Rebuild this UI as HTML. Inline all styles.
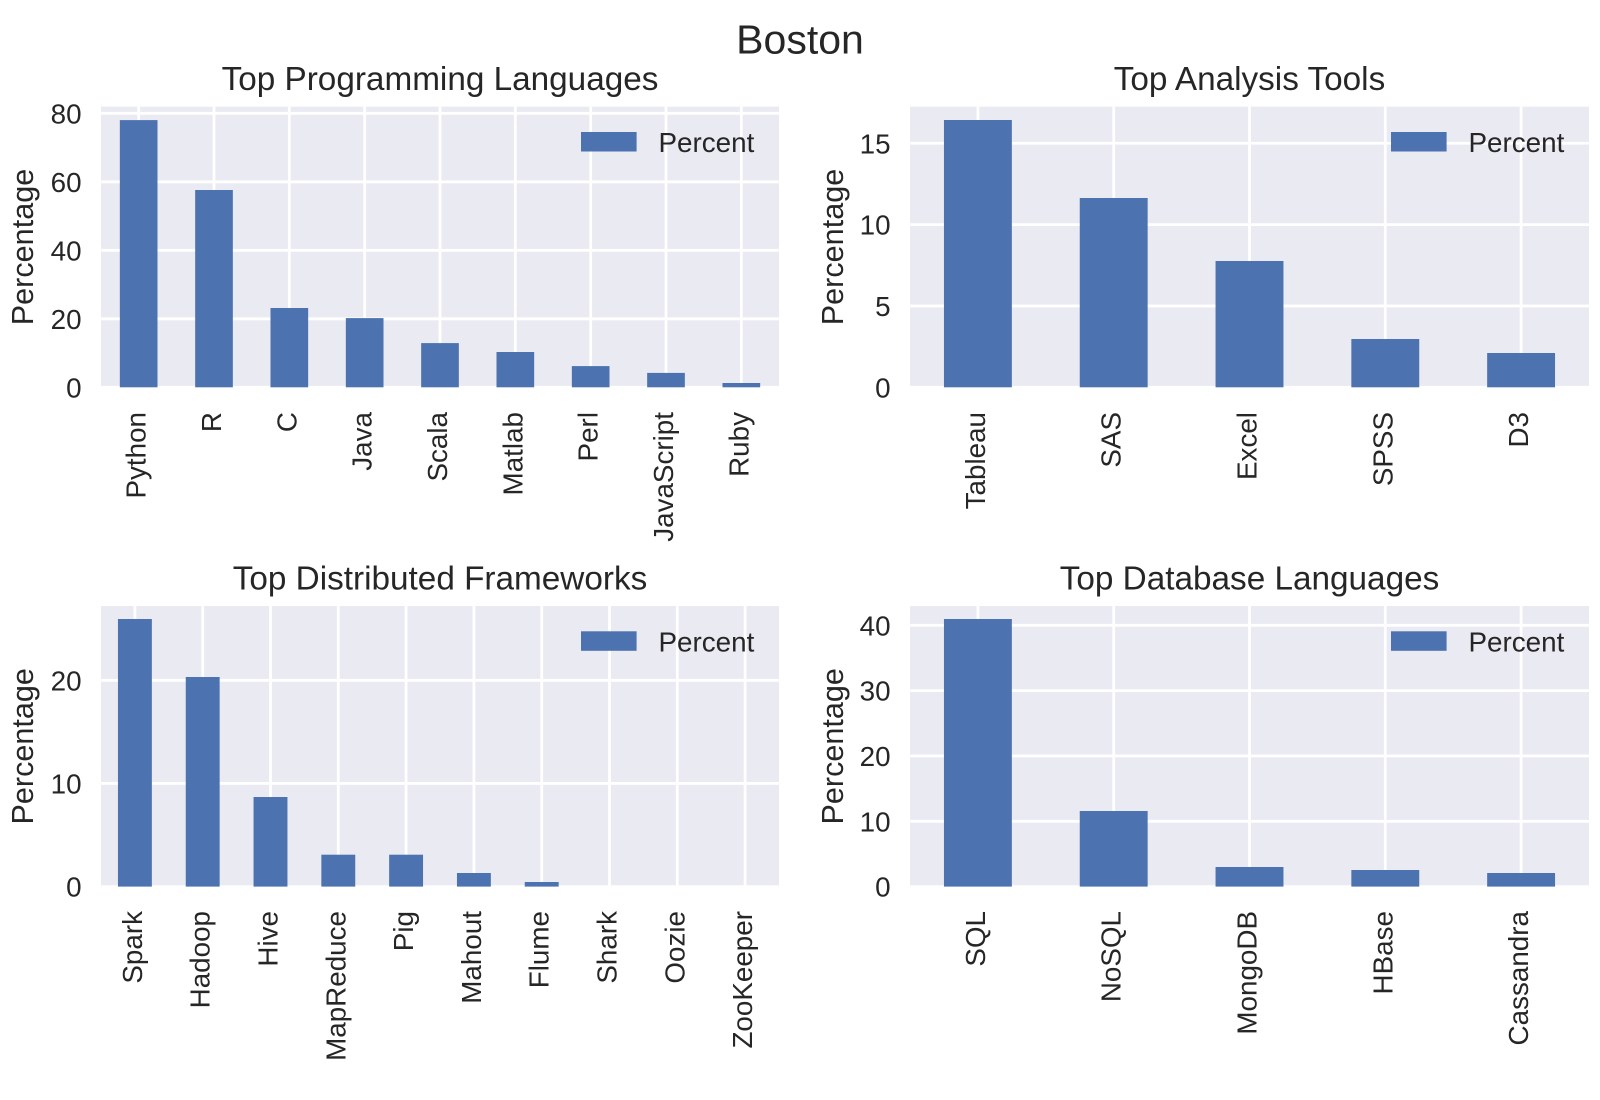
<!DOCTYPE html>
<html>
<head>
<meta charset="utf-8">
<style>
html,body{margin:0;padding:0;background:#fff;}
svg{display:block;}
text{font-family:"Liberation Sans",Arial,sans-serif;fill:#262626;}
.tk{font-size:27.8px;}
.lg{font-size:27.8px;}
.yl{font-size:30.6px;}
.tt{font-size:33.3px;}
.g{stroke:#fff;stroke-width:2.78;}
.b{fill:#4C72B0;}
</style>
</head>
<body>
<svg width="1600" height="1100" viewBox="0 0 1600 1100" xmlns="http://www.w3.org/2000/svg">
<rect x="0" y="0" width="1600" height="1100" fill="#fff"/>
<text x="800" y="53.3" text-anchor="middle" style="font-size:41px">Boston</text>

<!-- ============ TOP LEFT ============ -->
<rect x="101" y="106.7" width="678" height="280.6" fill="#EAEAF2"/>
<g class="g">
<line x1="138.67" y1="106.7" x2="138.67" y2="387.3"/>
<line x1="214" y1="106.7" x2="214" y2="387.3"/>
<line x1="289.33" y1="106.7" x2="289.33" y2="387.3"/>
<line x1="364.67" y1="106.7" x2="364.67" y2="387.3"/>
<line x1="440" y1="106.7" x2="440" y2="387.3"/>
<line x1="515.33" y1="106.7" x2="515.33" y2="387.3"/>
<line x1="590.67" y1="106.7" x2="590.67" y2="387.3"/>
<line x1="666" y1="106.7" x2="666" y2="387.3"/>
<line x1="741.33" y1="106.7" x2="741.33" y2="387.3"/>
<line x1="101" y1="387.3" x2="779" y2="387.3"/>
<line x1="101" y1="318.8" x2="779" y2="318.8"/>
<line x1="101" y1="250.3" x2="779" y2="250.3"/>
<line x1="101" y1="181.8" x2="779" y2="181.8"/>
<line x1="101" y1="113.3" x2="779" y2="113.3"/>
</g>
<g class="b">
<rect x="119.84" y="120.1" width="37.66" height="267.2"/>
<rect x="195.17" y="190" width="37.66" height="197.3"/>
<rect x="270.5" y="308" width="37.66" height="79.3"/>
<rect x="345.84" y="318.1" width="37.66" height="69.2"/>
<rect x="421.17" y="343.1" width="37.66" height="44.2"/>
<rect x="496.5" y="352" width="37.66" height="35.3"/>
<rect x="571.84" y="366.1" width="37.66" height="21.2"/>
<rect x="647.17" y="372.9" width="37.66" height="14.4"/>
<rect x="722.5" y="383" width="37.66" height="4.3"/>
</g>
<g class="tk" text-anchor="end">
<text x="81.6" y="397.3">0</text>
<text x="81.6" y="328.8">20</text>
<text x="81.6" y="260.3">40</text>
<text x="81.6" y="191.8">60</text>
<text x="81.6" y="123.3">80</text>
<text transform="translate(145.67,412) rotate(-90)">Python</text>
<text transform="translate(221,412) rotate(-90)">R</text>
<text transform="translate(296.33,412) rotate(-90)">C</text>
<text transform="translate(371.67,412) rotate(-90)">Java</text>
<text transform="translate(447,412) rotate(-90)">Scala</text>
<text transform="translate(522.33,412) rotate(-90)">Matlab</text>
<text transform="translate(597.67,412) rotate(-90)">Perl</text>
<text transform="translate(673,412) rotate(-90)">JavaScript</text>
<text transform="translate(748.33,412) rotate(-90)">Ruby</text>
</g>
<text class="yl" transform="translate(33,247) rotate(-90)" text-anchor="middle">Percentage</text>
<text class="tt" x="440" y="90" text-anchor="middle">Top Programming Languages</text>
<rect class="b" x="581" y="132" width="55.6" height="19.5"/>
<text class="lg" x="658.5" y="152">Percent</text>

<!-- ============ TOP RIGHT ============ -->
<rect x="910" y="106.7" width="679" height="280.6" fill="#EAEAF2"/>
<g class="g">
<line x1="977.9" y1="106.7" x2="977.9" y2="387.3"/>
<line x1="1113.7" y1="106.7" x2="1113.7" y2="387.3"/>
<line x1="1249.5" y1="106.7" x2="1249.5" y2="387.3"/>
<line x1="1385.3" y1="106.7" x2="1385.3" y2="387.3"/>
<line x1="1521.1" y1="106.7" x2="1521.1" y2="387.3"/>
<line x1="910" y1="387.3" x2="1589" y2="387.3"/>
<line x1="910" y1="305.95" x2="1589" y2="305.95"/>
<line x1="910" y1="224.6" x2="1589" y2="224.6"/>
<line x1="910" y1="143.25" x2="1589" y2="143.25"/>
</g>
<g class="b">
<rect x="943.95" y="120" width="67.9" height="267.3"/>
<rect x="1079.75" y="198" width="67.9" height="189.3"/>
<rect x="1215.55" y="261" width="67.9" height="126.3"/>
<rect x="1351.35" y="339" width="67.9" height="48.3"/>
<rect x="1487.15" y="353" width="67.9" height="34.3"/>
</g>
<g class="tk" text-anchor="end">
<text x="890.6" y="397.3">0</text>
<text x="890.6" y="315.95">5</text>
<text x="890.6" y="234.6">10</text>
<text x="890.6" y="153.25">15</text>
<text transform="translate(984.9,412) rotate(-90)">Tableau</text>
<text transform="translate(1120.7,412) rotate(-90)">SAS</text>
<text transform="translate(1256.5,412) rotate(-90)">Excel</text>
<text transform="translate(1392.3,412) rotate(-90)">SPSS</text>
<text transform="translate(1528.1,412) rotate(-90)">D3</text>
</g>
<text class="yl" transform="translate(843,247) rotate(-90)" text-anchor="middle">Percentage</text>
<text class="tt" x="1249.5" y="90" text-anchor="middle">Top Analysis Tools</text>
<rect class="b" x="1391" y="132" width="55.6" height="19.5"/>
<text class="lg" x="1468.5" y="152">Percent</text>

<!-- ============ BOTTOM LEFT ============ -->
<rect x="101" y="606" width="678" height="280.6" fill="#EAEAF2"/>
<g class="g">
<line x1="134.9" y1="606" x2="134.9" y2="886.6"/>
<line x1="202.7" y1="606" x2="202.7" y2="886.6"/>
<line x1="270.5" y1="606" x2="270.5" y2="886.6"/>
<line x1="338.3" y1="606" x2="338.3" y2="886.6"/>
<line x1="406.1" y1="606" x2="406.1" y2="886.6"/>
<line x1="473.9" y1="606" x2="473.9" y2="886.6"/>
<line x1="541.7" y1="606" x2="541.7" y2="886.6"/>
<line x1="609.5" y1="606" x2="609.5" y2="886.6"/>
<line x1="677.3" y1="606" x2="677.3" y2="886.6"/>
<line x1="745.1" y1="606" x2="745.1" y2="886.6"/>
<line x1="101" y1="886.6" x2="779" y2="886.6"/>
<line x1="101" y1="783.45" x2="779" y2="783.45"/>
<line x1="101" y1="680.3" x2="779" y2="680.3"/>
</g>
<g class="b">
<rect x="117.95" y="619" width="33.9" height="267.6"/>
<rect x="185.75" y="677" width="33.9" height="209.6"/>
<rect x="253.55" y="797" width="33.9" height="89.6"/>
<rect x="321.35" y="854.7" width="33.9" height="31.9"/>
<rect x="389.15" y="854.7" width="33.9" height="31.9"/>
<rect x="456.95" y="873" width="33.9" height="13.6"/>
<rect x="524.75" y="882" width="33.9" height="4.6"/>
</g>
<g class="tk" text-anchor="end">
<text x="81.6" y="896.6">0</text>
<text x="81.6" y="793.45">10</text>
<text x="81.6" y="690.3">20</text>
<text transform="translate(141.9,911) rotate(-90)">Spark</text>
<text transform="translate(209.7,911) rotate(-90)">Hadoop</text>
<text transform="translate(277.5,911) rotate(-90)">Hive</text>
<text transform="translate(345.3,911) rotate(-90)">MapReduce</text>
<text transform="translate(413.1,911) rotate(-90)">Pig</text>
<text transform="translate(480.9,911) rotate(-90)">Mahout</text>
<text transform="translate(548.7,911) rotate(-90)">Flume</text>
<text transform="translate(616.5,911) rotate(-90)">Shark</text>
<text transform="translate(684.3,911) rotate(-90)">Oozie</text>
<text transform="translate(752.1,911) rotate(-90)">ZooKeeper</text>
</g>
<text class="yl" transform="translate(33,746.3) rotate(-90)" text-anchor="middle">Percentage</text>
<text class="tt" x="440" y="589.3" text-anchor="middle">Top Distributed Frameworks</text>
<rect class="b" x="581" y="631.3" width="55.6" height="19.5"/>
<text class="lg" x="658.5" y="651.3">Percent</text>

<!-- ============ BOTTOM RIGHT ============ -->
<rect x="910" y="606" width="679" height="280.6" fill="#EAEAF2"/>
<g class="g">
<line x1="977.9" y1="606" x2="977.9" y2="886.6"/>
<line x1="1113.7" y1="606" x2="1113.7" y2="886.6"/>
<line x1="1249.5" y1="606" x2="1249.5" y2="886.6"/>
<line x1="1385.3" y1="606" x2="1385.3" y2="886.6"/>
<line x1="1521.1" y1="606" x2="1521.1" y2="886.6"/>
<line x1="910" y1="886.6" x2="1589" y2="886.6"/>
<line x1="910" y1="821.3" x2="1589" y2="821.3"/>
<line x1="910" y1="755.9" x2="1589" y2="755.9"/>
<line x1="910" y1="690.6" x2="1589" y2="690.6"/>
<line x1="910" y1="625.3" x2="1589" y2="625.3"/>
</g>
<g class="b">
<rect x="943.95" y="619" width="67.9" height="267.6"/>
<rect x="1079.75" y="811" width="67.9" height="75.6"/>
<rect x="1215.55" y="867" width="67.9" height="19.6"/>
<rect x="1351.35" y="870" width="67.9" height="16.6"/>
<rect x="1487.15" y="873" width="67.9" height="13.6"/>
</g>
<g class="tk" text-anchor="end">
<text x="890.6" y="896.6">0</text>
<text x="890.6" y="831.3">10</text>
<text x="890.6" y="765.9">20</text>
<text x="890.6" y="700.6">30</text>
<text x="890.6" y="635.3">40</text>
<text transform="translate(984.9,911) rotate(-90)">SQL</text>
<text transform="translate(1120.7,911) rotate(-90)">NoSQL</text>
<text transform="translate(1256.5,911) rotate(-90)">MongoDB</text>
<text transform="translate(1392.3,911) rotate(-90)">HBase</text>
<text transform="translate(1528.1,911) rotate(-90)">Cassandra</text>
</g>
<text class="yl" transform="translate(843,746.3) rotate(-90)" text-anchor="middle">Percentage</text>
<text class="tt" x="1249.5" y="589.3" text-anchor="middle">Top Database Languages</text>
<rect class="b" x="1391" y="631.3" width="55.6" height="19.5"/>
<text class="lg" x="1468.5" y="651.3">Percent</text>
</svg>
</body>
</html>
